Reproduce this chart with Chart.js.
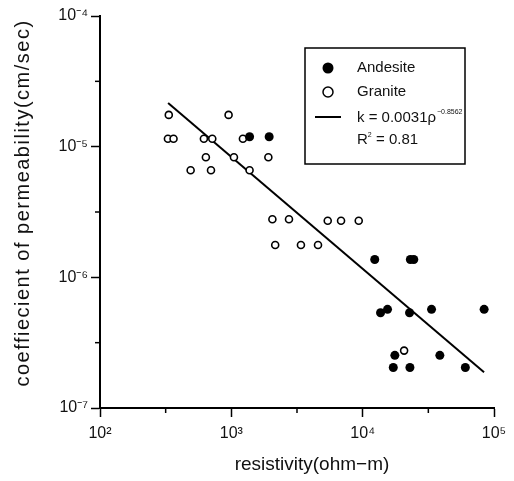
<!DOCTYPE html>
<html>
<head>
<meta charset="utf-8">
<script src="https://cdn.jsdelivr.net/npm/chart.js@4/dist/chart.umd.min.js"></script>
<style>
  body { margin: 0; background: #fff; }
</style>
</head>
<body>
<canvas id="chart" width="514" height="481"></canvas>
<script>
// values (resistivity in ohm-m, permeability in cm/sec)
const graniteRes = [334, 953, 329, 363, 618, 716, 1225, 640, 1047, 1914, 490, 700, 1377,
    2054, 2748, 5420, 6845, 9333, 2158, 3388, 4571, 20680];
const granitePerm = [1.75e-5, 1.75e-5, 1.15e-5, 1.15e-5, 1.15e-5, 1.15e-5, 1.15e-5, 8.3e-6, 8.3e-6, 8.3e-6,
    6.6e-6, 6.6e-6, 6.6e-6, 2.78e-6, 2.78e-6, 2.71e-6, 2.71e-6, 2.71e-6, 1.77e-6, 1.77e-6, 1.77e-6, 2.75e-7];

const andesiteRes = [1377, 1941, 12360, 23070, 24500, 13680, 15460, 22750, 33450, 84100,
    17580, 38700, 17100, 22900, 60500];
const andesitePerm = [1.19e-5, 1.19e-5, 1.37e-6, 1.37e-6, 1.37e-6, 5.36e-7, 5.69e-7, 5.36e-7, 5.69e-7, 5.69e-7,
    2.53e-7, 2.53e-7, 2.04e-7, 2.04e-7, 2.04e-7];

// end points of the fitted line k = 0.0031 p^-0.8562
const fitRes = [330, 84000];
const fitPerm = [2.16e-5, 1.88e-7];

const xTickValues = [100, 316.2, 1000, 3162, 10000, 31623, 100000];
const xTickLabels = ['10²', '', '10³', '', '10⁴', '', '10⁵'];
const yTickValues = [1e-7, 3.162e-7, 1e-6, 3.162e-6, 1e-5, 3.162e-5, 1e-4];
const yTickLabels = ['10⁻⁷', '', '10⁻⁶', '', '10⁻⁵', '', '10⁻⁴'];

const xTitle = 'resistivity(ohm\u2212m)';
const yTitle = 'coeffiecient of permeability(cm/sec)';

const FONT = '"Liberation Sans", Arial, sans-serif';

function toPoints(xs, ys) {
    return xs.map((x, i) => ({ x: x, y: ys[i] }));
}

// axis titles, minor ticks and the boxed legend
const overlay = {
    id: 'overlay',
    afterDraw(chart) {
        const ctx = chart.ctx;
        const xs = chart.scales.x;
        const ys = chart.scales.y;
        const area = chart.chartArea;
        ctx.save();
        ctx.strokeStyle = '#000';
        ctx.lineWidth = 1.5;

        xTickValues.forEach((v, i) => {
            if (xTickLabels[i]) return;
            const px = xs.getPixelForValue(v);
            ctx.beginPath();
            ctx.moveTo(px, area.bottom);
            ctx.lineTo(px, area.bottom + 5);
            ctx.stroke();
        });
        yTickValues.forEach((v, i) => {
            if (yTickLabels[i]) return;
            const py = ys.getPixelForValue(v);
            ctx.beginPath();
            ctx.moveTo(area.left, py);
            ctx.lineTo(area.left - 5, py);
            ctx.stroke();
        });

        ctx.fillStyle = '#111';
        ctx.textBaseline = 'middle';
        ctx.textAlign = 'center';
        ctx.font = '19px ' + FONT;
        ctx.fillText(xTitle, 312, 465);

        ctx.save();
        ctx.translate(23, 203);
        ctx.rotate(-Math.PI / 2);
        ctx.font = '20px ' + FONT;
        ctx.letterSpacing = '1.5px';
        ctx.fillText(yTitle, 0, 0);
        ctx.restore();

        // legend box
        ctx.lineWidth = 1.5;
        ctx.strokeRect(305, 48, 160, 116);

        ctx.fillStyle = '#000';
        ctx.beginPath();
        ctx.arc(328, 68, 5.5, 0, Math.PI * 2);
        ctx.fill();

        ctx.fillStyle = '#fff';
        ctx.beginPath();
        ctx.arc(328, 92, 5, 0, Math.PI * 2);
        ctx.fill();
        ctx.stroke();

        ctx.lineWidth = 2;
        ctx.beginPath();
        ctx.moveTo(315, 117);
        ctx.lineTo(341, 117);
        ctx.stroke();

        ctx.fillStyle = '#111';
        ctx.textAlign = 'left';
        ctx.font = '15px ' + FONT;
        ctx.fillText('Andesite', 357, 68);
        ctx.fillText('Granite', 357, 92);
        ctx.fillText('k = 0.0031\u03c1', 357, 118);
        const kw = ctx.measureText('k = 0.0031\u03c1').width;
        ctx.fillText('R', 357, 140);
        const rw = ctx.measureText('R').width;
        ctx.fillText(' = 0.81', 357 + rw + 4, 140);
        ctx.font = '7px ' + FONT;
        ctx.fillText('\u22120.8562', 357 + kw + 1, 112);
        ctx.fillText('2', 357 + rw, 135);

        ctx.restore();
    }
};

const ctx = document.getElementById('chart').getContext('2d');

new Chart(ctx, {
    type: 'scatter',
    data: {
        datasets: [{
            label: 'Andesite',
            data: toPoints(andesiteRes, andesitePerm),
            pointRadius: 4.5,
            backgroundColor: '#000',
            borderColor: '#000',
            borderWidth: 0
        }, {
            label: 'Granite',
            data: toPoints(graniteRes, granitePerm),
            pointRadius: 3.5,
            backgroundColor: '#fff',
            borderColor: '#000',
            borderWidth: 1.6
        }, {
            type: 'line',
            label: 'fit',
            data: toPoints(fitRes, fitPerm),
            borderColor: '#000',
            borderWidth: 2,
            pointRadius: 0,
            fill: false
        }]
    },
    options: {
        responsive: false,
        animation: false,
        layout: { padding: { left: 0, right: 20, top: 16, bottom: 0 } },
        plugins: {
            legend: { display: false },
            tooltip: { enabled: false }
        },
        scales: {
            x: {
                type: 'logarithmic',
                min: 100,
                max: 100000,
                afterFit: scale => { scale.height = 73; },
                afterBuildTicks: scale => {
                    scale.ticks = xTickValues.map(v => ({ value: v }));
                },
                border: { display: true, color: '#000', width: 2 },
                grid: {
                    drawOnChartArea: false,
                    tickLength: 9,
                    tickWidth: 1.5,
                    tickColor: c => (xTickLabels[c.index] ? '#000' : 'rgba(0,0,0,0)')
                },
                ticks: {
                    autoSkip: false,
                    maxRotation: 0,
                    padding: 7,
                    color: '#111',
                    font: { family: FONT, size: 16 },
                    callback: (value, index) => xTickLabels[index]
                }
            },
            y: {
                type: 'logarithmic',
                min: 1e-7,
                max: 1e-4,
                afterFit: scale => { scale.width = 100; },
                afterBuildTicks: scale => {
                    scale.ticks = yTickValues.map(v => ({ value: v }));
                },
                border: { display: true, color: '#000', width: 2 },
                grid: {
                    drawOnChartArea: false,
                    tickLength: 9,
                    tickWidth: 1.5,
                    tickColor: c => (yTickLabels[c.index] ? '#000' : 'rgba(0,0,0,0)')
                },
                ticks: {
                    autoSkip: false,
                    padding: 3,
                    color: '#111',
                    font: { family: FONT, size: 16 },
                    callback: (value, index) => yTickLabels[index]
                }
            }
        }
    },
    plugins: [overlay]
});
</script>
</body>
</html>
